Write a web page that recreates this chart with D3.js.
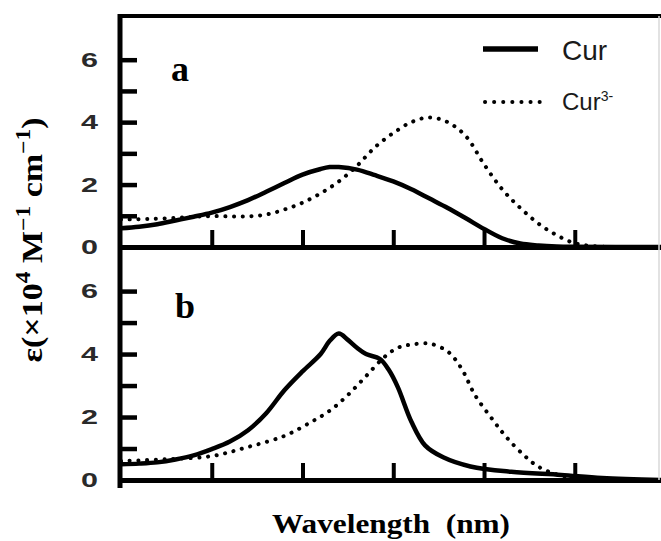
<!DOCTYPE html>
<html>
<head>
<meta charset="utf-8">
<script src="https://cdn.jsdelivr.net/npm/d3@7"></script>
<style>
body { margin: 0; background: #fff; }
</style>
</head>
<body>
<script>
// panel a, Cur (solid)
const curA_nm = [200, 220, 240, 260, 280, 300, 320, 340, 360, 380, 400, 420, 430, 440, 460, 480, 500, 520, 540, 560, 580, 600, 620, 640, 660, 680, 700, 795];
const curA = [0.6, 0.65, 0.73, 0.85, 0.97, 1.1, 1.28, 1.5, 1.77, 2.05, 2.32, 2.5, 2.56, 2.56, 2.48, 2.3, 2.1, 1.85, 1.55, 1.25, 0.92, 0.58, 0.28, 0.11, 0.05, 0.02, 0.01, 0];
// panel a, Cur3- (dotted)
const cur3A_nm = [200, 230, 260, 280, 300, 320, 340, 360, 380, 400, 420, 440, 460, 480, 500, 520, 540, 560, 580, 600, 620, 640, 660, 680, 700, 720, 740, 795];
const cur3A = [0.88, 0.9, 0.93, 0.97, 0.99, 0.98, 0.98, 1.04, 1.2, 1.42, 1.72, 2.1, 2.6, 3.2, 3.65, 4.0, 4.15, 4.0, 3.55, 2.65, 1.85, 1.25, 0.75, 0.38, 0.12, 0.03, 0, 0];
// panel b, Cur (solid)
const curB_nm = [200, 220, 240, 260, 280, 300, 320, 340, 360, 380, 400, 420, 430, 440, 450, 460, 470, 485, 495, 505, 520, 535, 555, 585, 630, 685, 730, 795];
const curB = [0.5, 0.52, 0.56, 0.65, 0.78, 0.98, 1.22, 1.58, 2.12, 2.85, 3.45, 4.0, 4.42, 4.65, 4.45, 4.2, 4.0, 3.85, 3.5, 2.95, 1.85, 1.1, 0.72, 0.43, 0.26, 0.16, 0.06, 0];
// panel b, Cur3- (dotted)
const cur3B_nm = [200, 250, 300, 340, 380, 410, 430, 450, 470, 490, 505, 520, 540, 560, 575, 590, 610, 625, 645, 660, 680, 700, 720, 795];
const cur3B = [0.6, 0.66, 0.76, 1.05, 1.4, 1.85, 2.2, 2.7, 3.3, 3.9, 4.2, 4.3, 4.33, 4.08, 3.55, 2.7, 1.9, 1.35, 0.76, 0.42, 0.18, 0.06, 0.01, 0];

const xTicks = [300, 400, 500, 600, 700];
const yTicks = [0, 1, 2, 3, 4, 5, 6];
const panelNames = ["a", "b"];
const seriesNames = ["Cur", "Cur"];

const width = 661, height = 541;
const serif = "'Liberation Serif', 'Times New Roman', serif";
const sans = "'Liberation Sans', Arial, sans-serif";

const svg = d3.select('body')
  .append('svg')
  .attr('width', width)
  .attr('height', height);

const x = d3.scaleLinear()
  .domain([200, 795])
  .range([121, 661]);

const yA = d3.scaleLinear().domain([0, 7.4]).range([247, 16]);
const yB = d3.scaleLinear().domain([0, 7.4]).range([480, 247]);

function drawPanel(y, solidX, solidY, dotX, dotY, name, labelY) {
  const xAxis = d3.axisBottom(x).tickValues(xTicks).tickSize(-17).tickSizeOuter(0).tickFormat("");
  const yAxis = d3.axisLeft(y).tickValues(yTicks).tickSize(-17).tickSizeOuter(0).tickPadding(22)
    .tickFormat(d => d % 2 === 0 ? d : "");

  const gx = svg.append("g")
    .attr("transform", "translate(0," + y(0) + ")")
    .call(xAxis);
  gx.select(".domain").attr("stroke-width", 5);
  gx.selectAll(".tick line").attr("stroke-width", 4);

  const gy = svg.append("g")
    .attr("transform", "translate(120,0)")
    .call(yAxis);
  gy.select(".domain").remove();
  gy.selectAll(".tick line").attr("stroke-width", 4.5);
  gy.selectAll(".tick text")
    .attr("font-family", sans)
    .attr("font-weight", "bold")
    .attr("font-size", 21)
    .attr("fill", "#2a2a2a")
    .filter(d => d % 2 === 0)
    .attr("textLength", 17)
    .attr("lengthAdjust", "spacingAndGlyphs");

  const line = d3.line()
    .x(d => x(d[0]))
    .y(d => y(d[1]))
    .curve(d3.curveCatmullRom.alpha(0.5));

  svg.append("path")
    .datum(d3.zip(dotX, dotY))
    .attr("d", line)
    .attr("fill", "none")
    .attr("stroke", "#000")
    .attr("stroke-width", 4)
    .attr("stroke-linecap", "round")
    .attr("stroke-dasharray", "0.1 8.6");

  svg.append("path")
    .datum(d3.zip(solidX, solidY))
    .attr("d", line)
    .attr("fill", "none")
    .attr("stroke", "#000")
    .attr("stroke-width", 4.5)
    .attr("stroke-linejoin", "round");

  svg.append("text")
    .attr("x", name === "a" ? 171 : 175)
    .attr("y", labelY)
    .attr("font-family", serif)
    .attr("font-weight", "bold")
    .attr("font-size", 36)
    .text(name);
}

drawPanel(yA, curA_nm, curA, cur3A_nm, cur3A, panelNames[0], 81);
drawPanel(yB, curB_nm, curB, cur3B_nm, cur3B, panelNames[1], 318);

// frame
svg.append("line").attr("x1", 120).attr("x2", 120).attr("y1", 14).attr("y2", 488)
  .attr("stroke", "#000").attr("stroke-width", 5);
svg.append("line").attr("x1", 118).attr("x2", 661).attr("y1", 16).attr("y2", 16)
  .attr("stroke", "#000").attr("stroke-width", 4);
svg.append("line").attr("x1", 659).attr("x2", 659).attr("y1", 16).attr("y2", 480)
  .attr("stroke", "#d8d8d8").attr("stroke-width", 1.5);

// legend
const legend = svg.append("g");
legend.append("line").attr("x1", 483).attr("x2", 538).attr("y1", 49).attr("y2", 49)
  .attr("stroke", "#000").attr("stroke-width", 5.5);
legend.append("line").attr("x1", 485).attr("x2", 540).attr("y1", 102).attr("y2", 102)
  .attr("stroke", "#000").attr("stroke-width", 4)
  .attr("stroke-linecap", "round").attr("stroke-dasharray", "0.1 9");
legend.append("text")
  .attr("x", 562).attr("y", 60)
  .attr("font-family", sans)
  .attr("font-size", 28)
  .attr("fill", "#1a1a1a")
  .text(seriesNames[0]);
const t2 = legend.append("text")
  .attr("x", 562).attr("y", 110)
  .attr("font-family", sans)
  .attr("font-size", 24)
  .attr("fill", "#1a1a1a");
t2.append("tspan").text(seriesNames[1]);
t2.append("tspan").attr("font-size", 14).attr("dy", -9).text("3-");

// axis titles
svg.append("text")
  .attr("x", 391).attr("y", 533)
  .attr("text-anchor", "middle")
  .attr("font-family", serif)
  .attr("font-weight", "bold")
  .attr("font-size", 28)
  .attr("textLength", 238)
  .attr("lengthAdjust", "spacingAndGlyphs")
  .text("Wavelength\u00a0 (nm)");

const yt = svg.append("text")
  .attr("transform", "translate(42,240) rotate(-90)")
  .attr("text-anchor", "middle")
  .attr("font-family", serif)
  .attr("font-weight", "bold")
  .attr("font-size", 29)
  .attr("textLength", 245)
  .attr("lengthAdjust", "spacingAndGlyphs");
yt.append("tspan").text("ε(×10");
yt.append("tspan").attr("font-size", 20).attr("dy", -12).text("4");
yt.append("tspan").attr("dy", 12).text(" M");
yt.append("tspan").attr("font-size", 20).attr("dy", -12).text("−1");
yt.append("tspan").attr("dy", 12).text(" cm");
yt.append("tspan").attr("font-size", 20).attr("dy", -12).text("−1");
yt.append("tspan").attr("dy", 12).text(")");
</script>
</body>
</html>
